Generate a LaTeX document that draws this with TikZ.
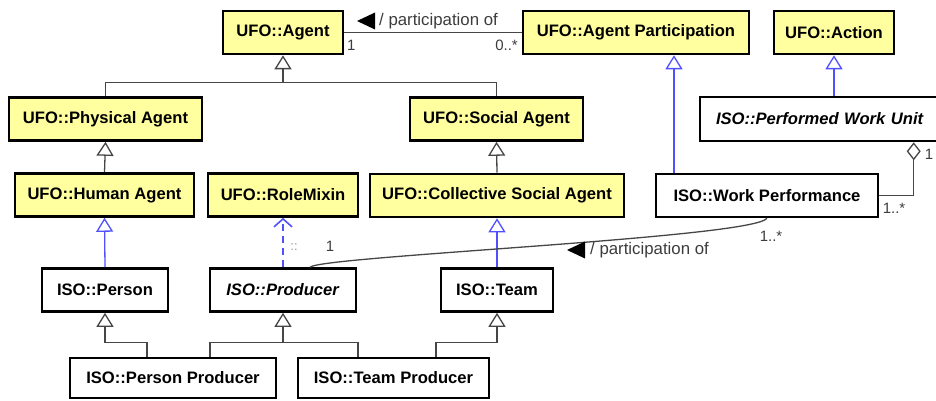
\documentclass[tikz,border=0pt]{standalone}
\usepackage{fontspec}
\setmainfont{Liberation Sans}
\usetikzlibrary{arrows.meta,calc}
\definecolor{ufoyellow}{RGB}{255,255,160}
\definecolor{relblue}{RGB}{80,80,255}
\definecolor{linegray}{RGB}{70,70,70}
\definecolor{labgray}{RGB}{60,60,60}
\definecolor{lightgray}{RGB}{150,150,150}
\begin{document}
\begin{tikzpicture}[x=1pt,y=-1pt,
  cls/.style={draw=black, line width=2.6pt, fill=white, minimum height=43pt, inner sep=0pt,
    font=\fontsize{16.6}{20}\selectfont\bfseries},
  ufo/.style={cls, fill=ufoyellow},
  genline/.style={draw=linegray, line width=1.3pt},
  gen/.style={genline, -{Triangle[fill=white, length=14pt, width=17pt, line width=1.3pt]}},
  real/.style={draw=relblue, line width=1.3pt, -{Triangle[fill=white, length=14pt, width=17pt, line width=1.3pt]}},
  dep/.style={draw=relblue, line width=2pt, dash pattern=on 7pt off 5pt, -{Straight Barb[length=8pt, width=18pt, line width=1.6pt]}},
  assoc/.style={draw=linegray, line width=1.3pt},
  agg/.style={draw=linegray, line width=1.3pt, {Diamond[fill=white, length=18pt, width=14pt, line width=1.3pt]}-},
  lab/.style={text=labgray, inner sep=0pt, font=\fontsize{16.8}{18}\selectfont},
  mult/.style={text=labgray, inner sep=0pt, font=\fontsize{15}{17}\selectfont},
  tri/.style={fill=black}
]
\useasboundingbox (0,0) rectangle (936,401);
\clip (0,0) rectangle (936,401);

% top row
\node[ufo, minimum width=120pt] (agent) at (283,32.5) {UFO::Agent};
\node[ufo, minimum width=226pt] (apart) at (636,32.5) {UFO::Agent Participation};
\node[ufo, minimum width=120pt] (action) at (834,32.5) {UFO::Action};

% second row
\node[ufo, minimum width=193pt] (phys) at (105.5,119) {UFO::Physical Agent};
\node[ufo, minimum width=173pt] (social) at (496.5,119) {UFO::Social Agent};
\node[cls, minimum width=250pt, minimum height=44pt, text width=218pt, align=left] (pwu) at (825,119) {\textit{ISO::Performed Work Unit}};

% third row
\node[ufo, minimum width=179pt] (human) at (104.5,195) {UFO::Human Agent};
\node[ufo, minimum width=150pt] (role) at (283,195) {UFO::RoleMixin};
\node[ufo, minimum width=254pt] (coll) at (497,195.5) {UFO::Collective Social Agent};
\node[cls, minimum width=222pt] (wp) at (767,195.5) {ISO::Work Performance};

% fourth row
\node[cls, minimum width=126pt] (person) at (105,290) {ISO::Person};
\node[cls, minimum width=146pt] (prod) at (283,290) {\textit{ISO::Producer}};
\node[cls, minimum width=112pt] (team) at (497,290) {ISO::Team};

% bottom row
\node[cls, minimum width=206pt, minimum height=40pt] (pp) at (173,378) {ISO::Person Producer};
\node[cls, minimum width=191pt, minimum height=40pt] (tp) at (393.5,378) {ISO::Team Producer};

% generalization: agent tree
\coordinate (agj) at ($(agent.south)+(0,27)$);
\draw[gen] (phys.north) |- (agj) -- (agent.south);
\draw[genline] (social.north) |- (agj);
\draw[gen] (human.north) -- (phys.south);
\draw[gen] (coll.north) -- (social.south);

% generalization: producers
\coordinate (pj) at ($(person.south)+(0,30)$);
\draw[gen] ($(pp.north)+(-26,0)$) |- (pj) -- (person.south);
\coordinate (prj) at ($(prod.south)+(0,30)$);
\draw[gen] ($(pp.north)+(37,0)$) |- (prj) -- (prod.south);
\draw[genline] ($(tp.north)+(-35.5,0)$) |- (prj);
\coordinate (tj) at ($(team.south)+(0,30)$);
\draw[gen] ($(tp.north)+(42.5,0)$) |- (tj) -- (team.south);

% realizations (blue)
\draw[real] (person.north) -- (human.south);
\draw[real] (team.north) -- (coll.south);
\coordinate (apA) at ($(apart.south)+(38,0)$);
\draw[real] (wp.north -| apA) -- (apA);
\draw[real] (action.south |- pwu.north) -- (action.south);
\draw[dep] (prod.north) -- (role.south);

% association agent -- participation
\draw[assoc] (agent.east) -- (apart.west);
\node[lab, anchor=west] (lab1) at (379,21) {/ participation of};
\fill[tri] (357,21) -- (375,12.5) -- (375,29.5) -- cycle;
\node[mult, anchor=west] (m1) at (347,45) {1};
\node[mult, anchor=east] (m2) at (518,45) {0..*};

% association work performance -- producer
\draw[assoc] ($(prod.north)+(27,0)$) .. controls (322,256) and (752,238) .. (wp.south);
\node[lab, anchor=west] (lab2) at (590,250) {/ participation of};
\fill[tri] (567,250) -- (585,241.5) -- (585,258.5) -- cycle;
\node[mult] (m5) at (771,236) {1..*};
\node[mult] (m4) at (330,246) {1};
\node[mult, text=lightgray, font=\fontsize{13}{15}\selectfont] (m3) at (294,247) {::};

% aggregation
\coordinate (dg) at ($(pwu.south west)+(215,0)$);
\draw[agg] (dg) |- (wp.east);
\node[mult] (m6) at (894,208) {1..*};
\node[mult] (m7) at (929,154) {1};
\end{tikzpicture}
\end{document}
